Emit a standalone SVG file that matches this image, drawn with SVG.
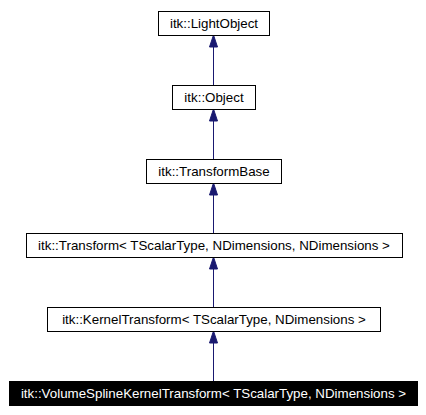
<svg xmlns="http://www.w3.org/2000/svg" width="426" height="415" viewBox="0 0 426 415">
<style>
.n rect{fill:#fff;stroke:#000;stroke-width:1}
.n text{font-family:"Liberation Sans",Arial,sans-serif;font-size:13.33px;text-anchor:middle;fill:#000}
.n.cur rect{fill:#000}
.n.cur text{fill:#fff}
.e line{stroke:#191970;stroke-width:1}
.e path{fill:#191970;stroke:#191970}
</style>
<rect width="426" height="415" fill="#fff"/>
<g id="edges" class="e">
<line x1="213.5" y1="85" x2="213.5" y2="46"/><path d="M213.5,35 L217.5,47 L209.5,47 Z"/>
<line x1="213.5" y1="159" x2="213.5" y2="120"/><path d="M213.5,109 L217.5,121 L209.5,121 Z"/>
<line x1="213.5" y1="233" x2="213.5" y2="194"/><path d="M213.5,183 L217.5,195 L209.5,195 Z"/>
<line x1="213.5" y1="307" x2="213.5" y2="268"/><path d="M213.5,257 L217.5,269 L209.5,269 Z"/>
<line x1="213.5" y1="381" x2="213.5" y2="342"/><path d="M213.5,331 L217.5,343 L209.5,343 Z"/>
</g>
<g id="LightObject" class="n"><rect x="158.5" y="11.5" width="111" height="24"/><text x="214" y="28">itk::LightObject</text></g>
<g id="Object" class="n"><rect x="172.5" y="85.5" width="83" height="24"/><text x="214" y="102">itk::Object</text></g>
<g id="TransformBase" class="n"><rect x="146.5" y="159.5" width="135" height="24"/><text x="214" y="176">itk::TransformBase</text></g>
<g id="Transform" class="n"><rect x="26.5" y="233.5" width="376" height="24"/><text x="214" y="250">itk::Transform&lt; TScalarType, NDimensions, NDimensions &gt;</text></g>
<g id="KernelTransform" class="n"><rect x="47.5" y="307.5" width="333" height="24"/><text x="214" y="324">itk::KernelTransform&lt; TScalarType, NDimensions &gt;</text></g>
<g id="VolumeSplineKernelTransform" class="n cur"><rect x="9.5" y="381.5" width="408" height="24"/><text x="213.5" y="398">itk::VolumeSplineKernelTransform&lt; TScalarType, NDimensions &gt;</text></g>
</svg>
